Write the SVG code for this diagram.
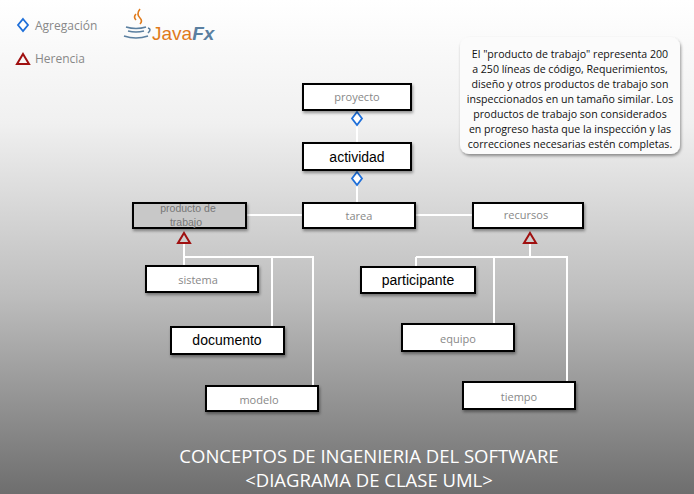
<svg xmlns="http://www.w3.org/2000/svg" width="694" height="494" viewBox="0 0 694 494">
<defs>
<linearGradient id="bg" x1="0" y1="0" x2="0" y2="1">
<stop offset="0" stop-color="#ffffff"/><stop offset="0.25" stop-color="#f0f0f0"/><stop offset="0.6" stop-color="#bdbdbd"/><stop offset="1" stop-color="#6e6e6e"/>
</linearGradient>
<filter id="sh" x="-10%" y="-20%" width="130%" height="160%"><feDropShadow dx="1" dy="2" stdDeviation="1.5" flood-color="#000" flood-opacity="0.4"/></filter>
</defs>
<style>
.box{fill:#fff;stroke:#000;stroke-width:2;filter:url(#sh)}
.lt{font-family:"Open Sans","Liberation Sans",sans-serif;font-size:11px;fill:#888;text-anchor:middle}
.bt{font-family:"Liberation Sans",Arial,sans-serif;font-size:14px;fill:#000;text-anchor:middle}
.ln{stroke:#fff;stroke-width:2;fill:none}
.dia{fill:#fff;stroke:#1e6fd9;stroke-width:1.8}
.tri{fill:none;stroke:#a01010;stroke-width:2}
.note{font-family:"Open Sans","Liberation Sans",sans-serif;font-size:10.6px;fill:#111;text-anchor:middle}
</style>
<rect width="694" height="494" fill="url(#bg)"/>
<g id="legend">
<path class="dia" d="M23 19 L28 25 L23 31 L18 25 Z"/>
<text x="35" y="30" font-family="Open Sans,Liberation Sans,sans-serif" font-size="12" fill="#888">Agregación</text>
<path class="tri" d="M23 54 L29 64 L17 64 Z"/>
<text x="35" y="63" font-family="Open Sans,Liberation Sans,sans-serif" font-size="12" fill="#888">Herencia</text>
</g>
<g id="logo">
<path d="M140 9 q-4 5 0 9 q3 3 0 6 M136 14 q-3 3 0 6" stroke="#e07a1a" stroke-width="1.6" fill="none"/>
<path d="M126 27 q10 3 20 0 M128 31 q8 2 16 0 M124 36 q12 4 24 0 M148 28 q4 1 0 5" stroke="#5a7fa0" stroke-width="1.6" fill="none"/>
<text x="152" y="40" font-family="Liberation Sans,sans-serif" font-size="19" fill="#e07a1a">Java<tspan fill="#5a7fa0" font-style="italic" font-weight="bold">Fx</tspan></text>
</g>
<g id="nota">
<rect x="460" y="37" width="220" height="117" rx="9" fill="#fbfbfb" filter="url(#sh)"/>
<text class="note" x="570" y="58">El "producto de trabajo" representa 200</text>
<text class="note" x="570" y="73">a 250 líneas de código, Requerimientos,</text>
<text class="note" x="570" y="88">diseño y otros productos de trabajo son</text>
<text class="note" x="570" y="103">inspeccionados en un tamaño similar. Los</text>
<text class="note" x="570" y="118">productos de trabajo son considerados</text>
<text class="note" x="570" y="133">en progreso hasta que la inspección y las</text>
<text class="note" x="570" y="148">correcciones necesarias estén completas.</text>
</g>
<g id="connectors">
<path class="ln" d="M357 110 V143 M357 170 V203 M246 215 H303 M415 215 H473"/>
<path class="ln" d="M184 243 V266 M184 257 H313 V386 M272 257 V327"/>
<path class="ln" d="M530 243 V257 M416 257 H567 V382 M416 257 V267 M494 257 V324"/>
<path class="dia" d="M357 112 L362 118.5 L357 125 L352 118.5 Z"/>
<path class="dia" d="M357 172 L362 178.5 L357 185 L352 178.5 Z"/>
<path class="tri" d="M184 233 L190 243 L178 243 Z"/>
<path class="tri" d="M530 233 L536 243 L524 243 Z"/>
</g>
<g id="proyecto"><rect class="box" x="303" y="84" width="108" height="26"/><text class="lt" x="357" y="101">proyecto</text></g>
<g id="actividad"><rect class="box" x="303" y="143" width="108" height="27"/><text class="bt" x="357" y="162">actividad</text></g>
<g id="tarea"><rect class="box" x="303" y="203" width="112" height="25"/><text class="lt" x="359" y="220">tarea</text></g>
<g id="producto"><rect class="box" x="133" y="203" width="113" height="25" style="fill:#c8c8c8"/><text class="lt" x="188" y="212" style="fill:#777;font-size:10.5px;font-family:'Liberation Sans',sans-serif">producto de</text><text class="lt" x="186" y="226" style="fill:#777;font-size:10.5px;font-family:'Liberation Sans',sans-serif">trabajo</text></g>
<g id="recursos"><rect class="box" x="473" y="203" width="110" height="25"/><text class="lt" x="526" y="219">recursos</text></g>
<g id="sistema"><rect class="box" x="146" y="266" width="112" height="26"/><text class="lt" x="198" y="284">sistema</text></g>
<g id="documento"><rect class="box" x="171" y="327" width="113" height="27"/><text class="bt" x="227" y="345">documento</text></g>
<g id="modelo"><rect class="box" x="206" y="386" width="112" height="25"/><text class="lt" x="259" y="404">modelo</text></g>
<g id="participante"><rect class="box" x="361" y="267" width="114" height="26"/><text class="bt" x="418" y="285">participante</text></g>
<g id="equipo"><rect class="box" x="402" y="324" width="112" height="27"/><text class="lt" x="458" y="343">equipo</text></g>
<g id="tiempo"><rect class="box" x="463" y="382" width="112" height="27"/><text class="lt" x="519" y="401">tiempo</text></g>
<g id="titulo" font-family="Open Sans,Liberation Sans,sans-serif" font-size="18.5" fill="#fff" text-anchor="middle">
<text x="369" y="463">CONCEPTOS DE INGENIERIA DEL SOFTWARE</text>
<text x="369" y="487">&lt;DIAGRAMA DE CLASE UML&gt;</text>
</g>
</svg>
